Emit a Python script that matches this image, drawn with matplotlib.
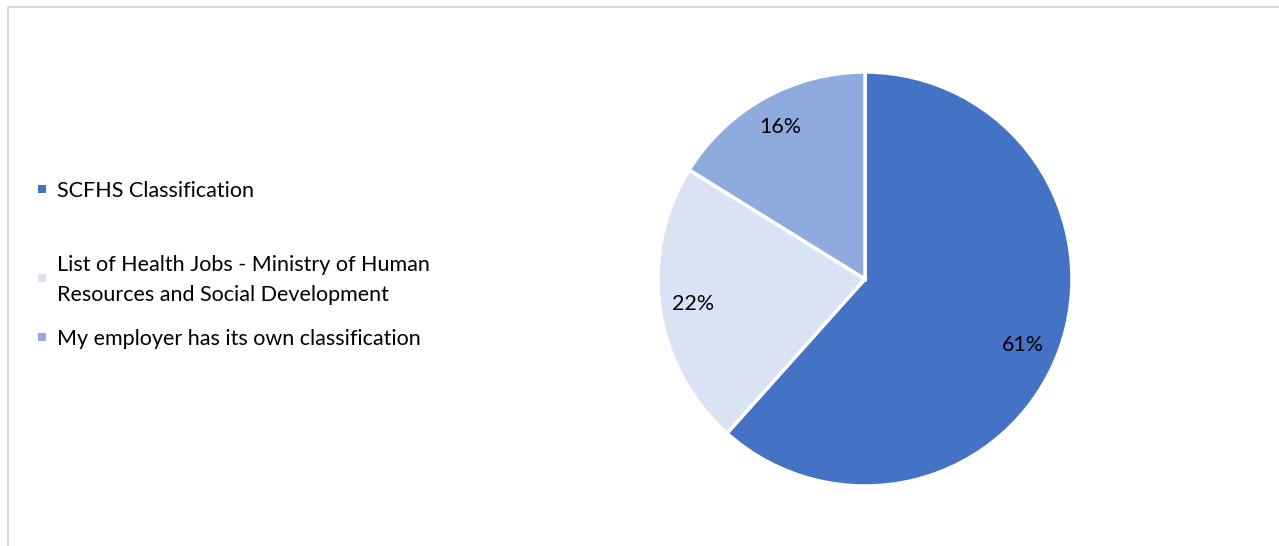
import matplotlib
matplotlib.use("Agg")
import matplotlib.pyplot as plt
from matplotlib.patches import Rectangle

categories = ["SCFHS Classification",
              "List of Health Jobs - Ministry of Human\nResources and Social Development",
              "My employer has its own classification"]
values = [61, 22, 16]
colors = ["#4472C4", "#DAE3F3", "#8FAADC"]

W, H = 1279, 546
plt.rcParams['font.family'] = ['Lato', 'DejaVu Sans']
fig = plt.figure(figsize=(W / 100, H / 100), dpi=100)

# outer frame
fig.patches.append(Rectangle((8 / W, -0.1), 1.2, 1.1 - 7 / H, transform=fig.transFigure,
                             fill=False, edgecolor="#d9d9d9", linewidth=1.5))

cx, cy, r = 865, 279, 207
ax = fig.add_axes([(cx - r) / W, (H - cy - r) / H, 2 * r / W, 2 * r / H])
wedges, texts = ax.pie(values, colors=colors, startangle=90, counterclock=False,
                       labels=[f"{v}%" for v in values], labeldistance=0.84,
                       wedgeprops=dict(edgecolor="white", linewidth=2.5),
                       textprops=dict(fontsize=15.5, color="#000000"))
for t in texts:
    t.set_ha("center")
    t.set_va("center")
texts[0].set_position((texts[0].get_position()[0] - 0.02, texts[0].get_position()[1] - 0.02))
ax.set_xlim(-1, 1)
ax.set_ylim(-1, 1)
ax.set_aspect("equal")
ax.axis("off")

# legend (manual, Excel-like spacing)
legend_y = [191, 280, 339]
for cat, col, y in zip(categories, colors, legend_y):
    fig.patches.append(Rectangle((38 / W, (H - y - 2) / H), 8 / W, 8 / H,
                                 transform=fig.transFigure, facecolor=col, edgecolor="none"))
    fig.text(57 / W, (H - y) / H, cat, fontsize=15.5, va="center", ha="left",
             color="#000000", linespacing=1.6)

fig.savefig("out.png", dpi=100, facecolor="white")
